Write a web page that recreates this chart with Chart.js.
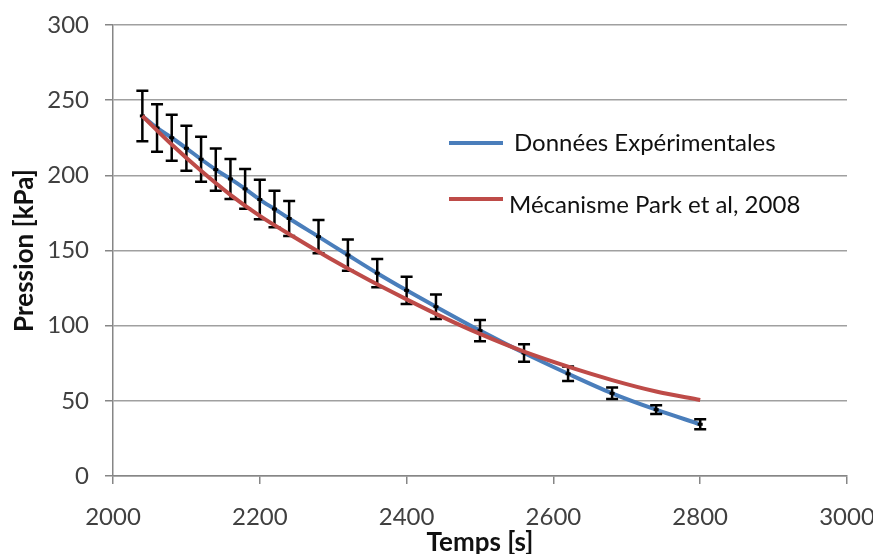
<!DOCTYPE html>
<html><head><meta charset="utf-8">
<script src="https://cdn.jsdelivr.net/npm/chart.js@4.4.0/dist/chart.umd.min.js"></script>
<style>html,body{margin:0;padding:0;background:#fff}#wrap{width:873px;height:554px}</style>
</head><body><div id="wrap"><canvas id="c" width="873" height="554"></canvas></div>
<script>
const expLabel = 'Données Expérimentales';
const modelLabel = 'Mécanisme Park et al, 2008';
const expTime = [2040,2060,2080,2100,2120,2140,2160,2180,2200,2220,2240,2280,2320,2360,2400,2440,2500,2560,2620,2680,2740,2800];
const expPressure = [239.5,231.5,225,218,210.7,203.8,197.6,191,183.9,177.6,171.3,159.2,147,134.9,123.5,112.6,96.7,81.8,68,55,44.1,34.4];
const expError = [16.8,15.8,15.3,15,14.9,14,13.3,13.2,13.1,12.2,11.6,11.1,10.4,9.4,9.1,8.2,7,5.8,4.8,3.8,2.9,3.3];
const modelTime = [2040,2080,2120,2160,2200,2250,2300,2350,2400,2450,2500,2560,2620,2680,2740,2800];
const modelPressure = [239.5,220.5,203,187,173,158,143.5,130,117.5,105.5,94.5,82.7,72.7,63.8,56.2,50.5];
const xTicks = [2000,2200,2400,2600,2800,3000];
const yTicks = [0,50,100,150,200,250,300];

const BLUE = '#4a7ebb', RED = '#be4b48', GRID = '#a0a0a0', AXIS = '#868686';
const TICKFONT = {family: 'Lato', size: 24};
const TITLEFONT = {family: 'Lato', size: 26, weight: 'bold'};

const errorBars = {
  id: 'errorBars',
  afterDatasetDraw(chart, args) {
    if (args.index !== 0) return;
    const {ctx, scales: {x, y}} = chart;
    ctx.save();
    ctx.strokeStyle = '#000';
    ctx.lineWidth = 2.5;
    expTime.forEach((t, i) => {
      const px = x.getPixelForValue(t);
      const top = y.getPixelForValue(expPressure[i] + expError[i]);
      const bot = y.getPixelForValue(expPressure[i] - expError[i]);
      const mid = y.getPixelForValue(expPressure[i]);
      ctx.beginPath();
      ctx.moveTo(px, top); ctx.lineTo(px, bot);
      ctx.moveTo(px - 6, top); ctx.lineTo(px + 6, top);
      ctx.moveTo(px - 6, bot); ctx.lineTo(px + 6, bot);
      ctx.stroke();
      ctx.fillStyle = '#000';
      ctx.fillRect(px - 2.5, mid - 1.5, 5, 3);
    });
    ctx.restore();
  }
};

const insideLegend = {
  id: 'insideLegend',
  afterDraw(chart) {
    const {ctx} = chart;
    const items = [
      {label: chart.data.datasets[0].label, color: chart.data.datasets[0].borderColor, ly: 143, ty: 143, tx: 514},
      {label: chart.data.datasets[1].label, color: chart.data.datasets[1].borderColor, ly: 199, ty: 205, tx: 509}
    ];
    ctx.save();
    items.forEach(it => {
      ctx.strokeStyle = it.color;
      ctx.lineWidth = 4;
      ctx.beginPath(); ctx.moveTo(449, it.ly); ctx.lineTo(503, it.ly); ctx.stroke();
      ctx.fillStyle = '#111';
      ctx.font = '24px Lato';
      ctx.textBaseline = 'middle';
      ctx.textAlign = 'left';
      ctx.fillText(it.label, it.tx, it.ty);
    });
    ctx.restore();
  }
};

new Chart(document.getElementById('c'), {
  type: 'line',
  data: {
    datasets: [
      {label: expLabel, data: expTime.map((t, i) => ({x: t, y: expPressure[i]})),
       borderColor: BLUE, backgroundColor: BLUE, borderWidth: 4, pointRadius: 0,
       cubicInterpolationMode: 'monotone', order: 1},
      {label: modelLabel, data: modelTime.map((t, i) => ({x: t, y: modelPressure[i]})),
       borderColor: RED, backgroundColor: RED, borderWidth: 4, pointRadius: 0,
       cubicInterpolationMode: 'monotone', order: 0}
    ]
  },
  options: {
    responsive: false,
    animation: false,
    layout: {padding: {top: 25, right: 26, left: 0, bottom: 0}},
    plugins: {legend: {display: false}, tooltip: {enabled: false}},
    scales: {
      x: {
        type: 'linear', min: 2000, max: 3000,
        afterBuildTicks: s => { s.ticks = xTicks.map(v => ({value: v})); },
        afterFit: s => { s.height = 78; s.paddingLeft = 0; s.paddingRight = 0; },
        ticks: {font: TICKFONT, color: '#404040', padding: 19, maxRotation: 0, callback: v => String(v)},
        grid: {drawOnChartArea: false, drawTicks: true, tickLength: 8, color: AXIS, lineWidth: 1.5},
        border: {color: AXIS, width: 1.5},
        title: {display: true, text: 'Temps [s]', font: TITLEFONT, color: '#111', padding: {top: 0, bottom: -4}}
      },
      y: {
        type: 'linear', min: 0, max: 300,
        afterBuildTicks: s => { s.ticks = yTicks.map(v => ({value: v})); },
        afterFit: s => { s.width = 113; s.paddingTop = 0; s.paddingBottom = 0; },
        ticks: {font: TICKFONT, color: '#404040', padding: 16, callback: v => String(v)},
        grid: {color: GRID, lineWidth: 1.5, tickLength: 8, tickColor: AXIS},
        border: {color: AXIS, width: 1.5},
        title: {display: true, text: 'Pression [kPa]', font: TITLEFONT, color: '#111', padding: {top: 9, bottom: 0}}
      }
    }
  },
  plugins: [errorBars, insideLegend]
});
</script></body></html>
